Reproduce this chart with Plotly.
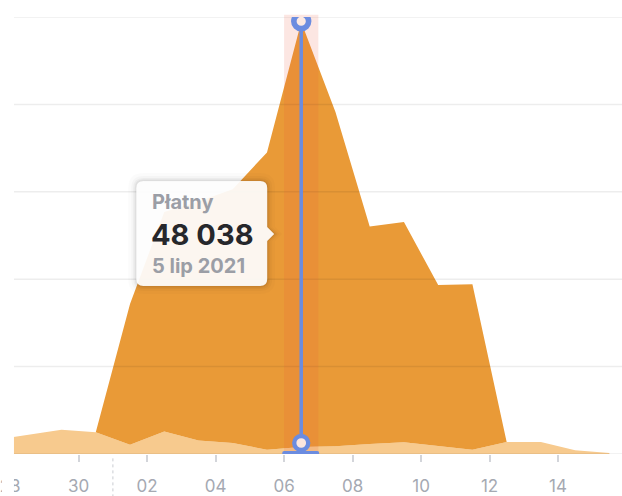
import plotly.graph_objects as go
import pandas as pd

# ---- data ----
dates = ["2021-06-27", "2021-06-28", "2021-06-29", "2021-06-30", "2021-07-01",
         "2021-07-02", "2021-07-03", "2021-07-04", "2021-07-05", "2021-07-06",
         "2021-07-07", "2021-07-08", "2021-07-09", "2021-07-10", "2021-07-11",
         "2021-07-12", "2021-07-13", "2021-07-14", "2021-07-15"]
free_values = [1580, 2140, 2740, 2470, 1050, 2550, 1540, 1240, 490, 790,
               870, 1120, 1320, 900, 490, 1350, 1350, 420, 110]
paid_values = [0, 0, 0, 0, 15900, 24800, 27000, 28700, 33600, 48038,
               37800, 24600, 24900, 18200, 18700, 0, 0, 0, 0]
tick_dates = ["2021-06-28", "2021-06-30", "2021-07-02", "2021-07-04", "2021-07-06",
              "2021-07-08", "2021-07-10", "2021-07-12", "2021-07-14"]
tick_labels = ["28", "30", "02", "04", "06", "08", "10", "12", "14"]
month_start = "2021-07-01"
tooltip_title = "Płatny"
tooltip_value = "48 038"
tooltip_date = "5 lip 2021"
y_top = 49400
n_grid = 5

# ---- styling ----
PAID = "#E99A37"
FREE = "#F7CA8E"
BLUE = "#6B8CE0"
FONT = "Inter"

x = pd.to_datetime(dates) + pd.Timedelta(hours=12)  # points sit mid-day
peak_i = max(range(len(paid_values)), key=lambda i: paid_values[i])
peak_x = x[peak_i]
peak_total = paid_values[peak_i] + free_values[peak_i]

fig = go.Figure()
fig.add_trace(go.Scatter(x=x, y=free_values, name="Bezpłatny", stackgroup="s",
                         mode="lines", line=dict(width=0, color=FREE),
                         fillcolor=FREE, hoverinfo="skip"))
fig.add_trace(go.Scatter(x=x, y=paid_values, name=tooltip_title, stackgroup="s",
                         mode="lines", line=dict(width=0, color=PAID),
                         fillcolor=PAID, hoverinfo="skip"))

shapes = []
# grid lines drawn over the areas
for i in range(n_grid + 1):
    yv = y_top * i / n_grid
    shapes.append(dict(type="line", xref="paper", yref="y", x0=12 / 622, x1=1,
                       y0=yv, y1=yv, layer="above",
                       line=dict(color="rgba(0,0,0,0.07)", width=1.5)))
# hover band
shapes.append(dict(type="rect", xref="x", yref="paper",
                   x0=peak_x - pd.Timedelta(hours=12), x1=peak_x + pd.Timedelta(hours=12),
                   y0=0, y1=1.005, layer="above", line=dict(width=0),
                   fillcolor="rgba(235,90,60,0.15)"))
# month boundary marker
shapes.append(dict(type="line", xref="x", yref="paper", x0=month_start, x1=month_start,
                   y0=-0.01, y1=-0.1, layer="above",
                   line=dict(color="#C9CCD2", width=1, dash="3px,3px")))
# cursor vertical line
shapes.append(dict(type="line", xref="x", yref="y", x0=peak_x, x1=peak_x,
                   y0=0, y1=peak_total, layer="above",
                   line=dict(color=BLUE, width=3.5)))
# bottom bar
shapes.append(dict(type="path", xref="x", yref="y", xsizemode="pixel", ysizemode="pixel",
                   xanchor=peak_x, yanchor=0,
                   path="M -17,3 L 16,3 Q 18,3 18,1 Q 18,-1 16,-1 L -17,-1 Q -19,-1 -19,1 Q -19,3 -17,3 Z",
                   layer="above", line=dict(width=0), fillcolor=BLUE))
# bottom circle
shapes.append(dict(type="circle", xref="x", yref="y", xsizemode="pixel", ysizemode="pixel",
                   xanchor=peak_x, yanchor=0, x0=-7, x1=7, y0=4, y1=18,
                   layer="above", line=dict(color=BLUE, width=4.3), fillcolor="#FCE6DE"))
# top circle
shapes.append(dict(type="circle", xref="x", yref="y", xsizemode="pixel", ysizemode="pixel",
                   xanchor=peak_x, yanchor=peak_total, x0=-7.4, x1=7.4, y0=-6.6, y1=8.2,
                   layer="above", line=dict(color=BLUE, width=5.6), fillcolor="#FCE9E2"))

# tooltip box (shadow + body), anchored at middle of the cursor line
box = ("M -158,57 L -41,57 Q -34,57 -34,50 L -34,11 L -27,4 L -34,-3 L -34,-41 "
       "Q -34,-48 -41,-48 L -158,-48 Q -165,-48 -165,-41 L -165,50 Q -165,57 -158,57 Z")
for g, alpha in [(8, 0.015), (5, 0.025), (3, 0.035), (1.5, 0.05)]:
    sh = (f"M {-158},{57+g} L {-41},{57+g} Q {-34+g},{57+g} {-34+g},{50} L {-34+g},{11} "
          f"L {-27+g},{4} L {-34+g},{-3} L {-34+g},{-41} Q {-34+g},{-48-g} {-41},{-48-g} "
          f"L {-158},{-48-g} Q {-165-g},{-48-g} {-165-g},{-41} L {-165-g},{50} "
          f"Q {-165-g},{57+g} {-158},{57+g} Z")
    shapes.append(dict(type="path", xref="x", yref="y", xsizemode="pixel", ysizemode="pixel",
                       xanchor=peak_x, yanchor=peak_total / 2, path=sh, layer="above",
                       line=dict(width=0), fillcolor=f"rgba(0,0,0,{alpha})"))
shapes.append(dict(type="path", xref="x", yref="y", xsizemode="pixel", ysizemode="pixel",
                   xanchor=peak_x, yanchor=peak_total / 2, path=box, layer="above",
                   line=dict(width=0.5, color="rgba(0,0,0,0.06)"),
                   fillcolor="rgba(255,255,255,0.93)"))
# left-edge mask (clips the cut-off first tick label like the original)
shapes.append(dict(type="rect", xref="paper", yref="paper", x0=0, x1=12 / 622,
                   y0=-0.2, y1=1.1, layer="above", line=dict(width=0), fillcolor="white"))

annotations = [
    dict(xref="x", yref="y", x=peak_x, y=peak_total / 2, xshift=-151, yshift=36,
         text=tooltip_title, showarrow=False, xanchor="left", yanchor="middle",
         font=dict(family=FONT, size=20, color="#9B9EA6", weight=700)),
    dict(xref="x", yref="y", x=peak_x, y=peak_total / 2, xshift=-152, yshift=4,
         text=tooltip_value, showarrow=False, xanchor="left", yanchor="middle",
         font=dict(family=FONT, size=29, color="#26272B", weight=700)),
    dict(xref="x", yref="y", x=peak_x, y=peak_total / 2, xshift=-151, yshift=-28,
         text=tooltip_date, showarrow=False, xanchor="left", yanchor="middle",
         font=dict(family=FONT, size=20, color="#9B9EA6", weight=700)),
]

fig.update_layout(
    width=622, height=496,
    margin=dict(l=0, r=0, t=17, b=40),
    paper_bgcolor="white", plot_bgcolor="white",
    showlegend=False, hovermode=False,
    shapes=shapes, annotations=annotations,
    xaxis=dict(type="date", range=["2021-06-27 18:16", "2021-07-15 20:51"],
               tickvals=tick_dates, ticktext=tick_labels,
               ticks="outside", ticklen=7, tickwidth=1.5, tickcolor="#D3D5DA",
               showgrid=False, showline=False, zeroline=False,
               ticklabelstandoff=10, ticklabeloverflow="allow",
               tickfont=dict(family=FONT, size=17, color="#A5A9B2")),
    yaxis=dict(range=[0, y_top], showgrid=False, zeroline=False,
               showticklabels=False, ticks=""),
)

fig.write_html("out.html", config={"displayModeBar": False},
               post_script="document.body.style.margin='0';document.body.style.overflow='hidden';")
